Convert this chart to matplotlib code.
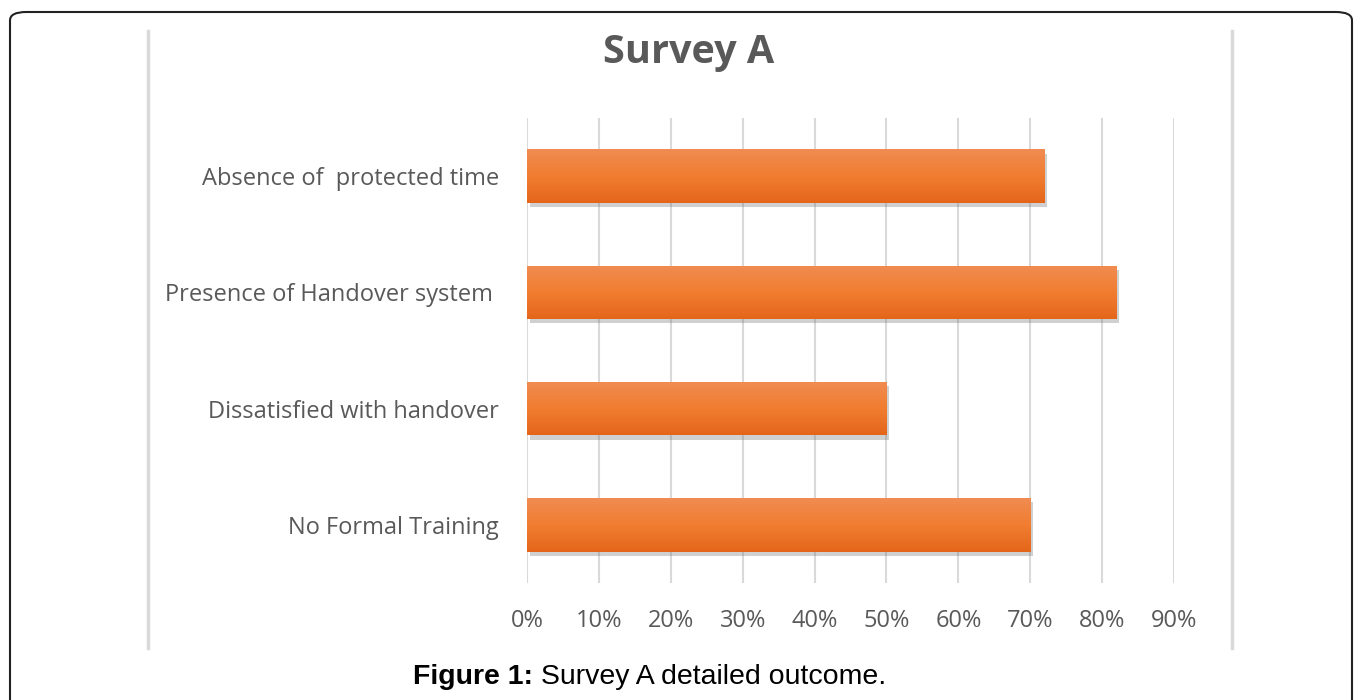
import numpy as np
import matplotlib
matplotlib.use("Agg")
import matplotlib.pyplot as plt
import matplotlib.patheffects as pe
from matplotlib.patches import FancyBboxPatch
from matplotlib.lines import Line2D
from matplotlib.colors import LinearSegmentedColormap

categories = ["No Formal Training", "Dissatisfied with handover",
              "Presence of Handover system ", "Absence of  protected time"]
values = [0.70, 0.50, 0.82, 0.72]
ticks = [0, 0.1, 0.2, 0.3, 0.4, 0.5, 0.6, 0.7, 0.8, 0.9]
tick_labels = ["0%", "10%", "20%", "30%", "40%", "50%", "60%", "70%", "80%", "90%"]

W, H = 1358, 700
fig = plt.figure(figsize=(W / 100, H / 100), dpi=100)
fig.patch.set_facecolor("white")

ax = fig.add_axes([527 / W, 1 - 583 / H, (1174 - 527) / W, (583 - 118) / H])
for s in ax.spines.values():
    s.set_visible(False)
ax.set_xticks(ticks)
ax.set_xticklabels(tick_labels)
ax.set_yticks(range(len(categories)))
ax.set_yticklabels(categories)
ax.tick_params(length=0, colors="#595959", labelsize=17)
ax.tick_params(axis="x", pad=19)
ax.tick_params(axis="y", pad=20)
for lbl in ax.get_xticklabels() + ax.get_yticklabels():
    lbl.set_family("Open Sans")
ax.grid(axis="x", color="#d9d9d9", linewidth=1.5)
ax.set_axisbelow(True)

bars = ax.barh(range(len(categories)), values, height=0.46, color="#ef7b2f",
               linewidth=0, zorder=2)

# shading on each bar: lighter at the top, darker at the bottom
grad = LinearSegmentedColormap.from_list("bar", ["#e4661b", "#f17d30", "#f08c52"])
for b in bars:
    b.set_path_effects([pe.SimplePatchShadow(offset=(2, -3), shadow_rgbFace="#666666",
                                             alpha=0.3), pe.Normal()])
    x0, y0 = b.get_x(), b.get_y()
    img = ax.imshow(np.linspace(0, 1, 100).reshape(-1, 1), cmap=grad, aspect="auto",
                    origin="lower", extent=(x0, x0 + b.get_width(), y0, y0 + b.get_height()),
                    zorder=3)
    img.set_clip_path(b)
ax.set_xlim(0, 0.9)
ax.set_ylim(-0.5, len(categories) - 0.5)

fig.text(689 / W, 1 - 53 / H, "Survey A", ha="center", va="center", fontsize=28.5,
         fontweight="bold", color="#595959", family="Open Sans")

# chart box edges
for x in (148, 1232):
    fig.add_artist(Line2D([x / W, x / W], [1 - 31 / H, 1 - 648 / H], color="#d9d9d9",
                          linewidth=2.5))

# outer frame
fig.add_artist(FancyBboxPatch((10 / W, -0.05), (1352 - 10) / W, (700 - 12) / H + 0.05,
                              boxstyle="round,pad=0,rounding_size=0.012",
                              transform=fig.transFigure, facecolor="none",
                              edgecolor="#222222", linewidth=1.5))

# caption: bold lead-in followed by plain text
cap_y = 1 - 677 / H
lead = fig.text(0, cap_y, "Figure 1:", ha="left", va="center", fontsize=20.5,
                fontweight="bold", family="Liberation Sans", color="black")
rest = fig.text(0, cap_y, " Survey A detailed outcome.", ha="left", va="center",
                fontsize=20.5, family="Liberation Sans", color="black")
fig.canvas.draw()
r = fig.canvas.get_renderer()
w_lead = lead.get_window_extent(r).width
w_rest = rest.get_window_extent(r).width
start = 650 - (w_lead + w_rest) / 2
lead.set_x(start / W)
rest.set_x((start + w_lead) / W)

fig.savefig("out.png", dpi=100)
